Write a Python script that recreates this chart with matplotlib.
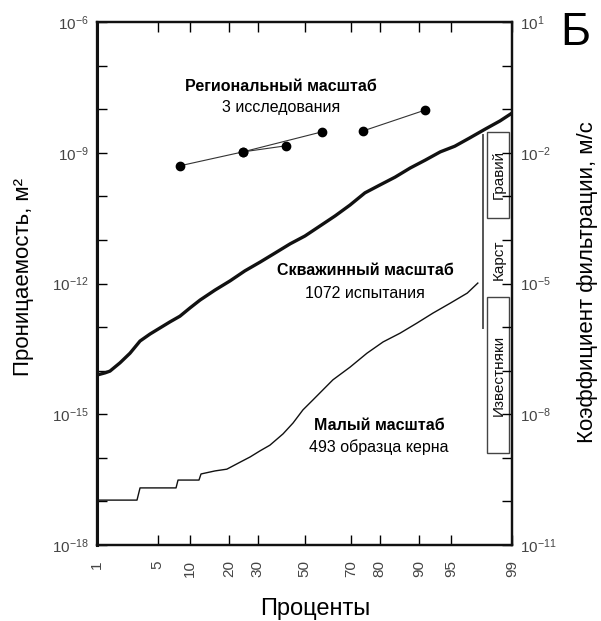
import numpy as np
import matplotlib
matplotlib.use('Agg')
import matplotlib.pyplot as plt
from matplotlib.patches import Rectangle
from matplotlib.ticker import FixedLocator, NullFormatter
from statistics import NormalDist

plt.rcParams['font.family'] = ['Liberation Sans', 'DejaVu Sans']
plt.rcParams['mathtext.fontset'] = 'custom'
plt.rcParams['mathtext.rm'] = 'Liberation Sans'
plt.rcParams['mathtext.it'] = 'Liberation Sans:italic'
plt.rcParams['mathtext.bf'] = 'Liberation Sans:bold'

# Региональный масштаб: 3 исследования (проценты, lg k)
reg_pct_a = [8.1, 24.5, 41.8]
reg_logk_a = [-9.30, -8.98, -8.84]
reg_pct_b = [24.5, 57.8]
reg_logk_b = [-8.98, -8.52]
reg_pct_c = [74.4, 91.2]
reg_logk_c = [-8.50, -8.02]

# Скважинный масштаб: 1072 испытания
bore_pct = [1.0, 1.27, 1.46, 1.93, 2.52, 3.26, 4.16, 5.26, 6.58, 8.13, 9.97,
            12.08, 15.8, 20.2, 25.2, 30.9, 37.1, 43.6, 50.2, 56.9, 63.4, 69.5,
            75.1, 80.1, 84.5, 88.2, 91.2, 93.6, 95.4, 96.8, 97.85, 98.58, 99.0]
bore_logk = [-14.10, -14.05, -14.01, -13.82, -13.60, -13.32, -13.16, -13.02,
             -12.88, -12.75, -12.56, -12.38, -12.15, -11.94, -11.71, -11.51,
             -11.30, -11.09, -10.91, -10.68, -10.45, -10.20, -9.92, -9.74,
             -9.56, -9.35, -9.17, -8.98, -8.85, -8.66, -8.46, -8.27, -8.09]

# Малый масштаб: 493 образца керна
core_pct = [1.0, 3.02, 3.26, 7.49, 7.81, 11.84, 12.3, 15.8, 19.2, 23.5, 27.1,
            30.9, 34.9, 40.5, 44.9, 49.3, 53.8, 58.2, 62.5, 69.5, 75.8, 81.1,
            85.8, 89.6, 92.5, 94.9, 96.6, 97.4]
core_logk = [-16.97, -16.97, -16.69, -16.69, -16.51, -16.51, -16.37, -16.30,
             -16.26, -16.10, -15.98, -15.84, -15.71, -15.45, -15.20, -14.90,
             -14.67, -14.44, -14.21, -13.92, -13.60, -13.34, -13.14, -12.91,
             -12.68, -12.45, -12.22, -11.99]

# диапазоны пород (lg k)
rock_names = ['Гравий', 'Известняки']
rock_top = [-8.52, -12.31]
rock_bot = [-10.50, -15.89]
karst_top = -8.59
karst_bot = -13.02

pct_ticks = [1, 5, 10, 20, 30, 50, 70, 80, 90, 95, 99]

nd = NormalDist()
_ppf = np.vectorize(lambda v: nd.inv_cdf(min(max(v / 100.0, 1e-9), 1 - 1e-9)), otypes=[float])
_cdf = np.vectorize(lambda v: nd.cdf(v) * 100.0, otypes=[float])


def fwd(p):
    return _ppf(np.asarray(p, dtype=float))


def inv(z):
    return _cdf(np.asarray(z, dtype=float))


fig = plt.figure(figsize=(6.01, 6.21), dpi=100)
ax = fig.add_axes([97 / 601, 1 - 545 / 621, 415 / 601, 523 / 621])
ax.set_xscale('function', functions=(fwd, inv))
ax.set_yscale('log')
ax.set_xlim(1, 99)
ax.set_ylim(1e-18, 1e-6)

line_c = '#111111'
for px, lk in [(reg_pct_a, reg_logk_a), (reg_pct_b, reg_logk_b), (reg_pct_c, reg_logk_c)]:
    ax.plot(px, 10.0 ** np.array(lk), color='#333333', lw=0.8,
            marker='o', ms=6, mfc='black', mec='black')

ax.plot(bore_pct, 10.0 ** np.array(bore_logk), color=line_c, lw=2.4)
ax.plot(core_pct, 10.0 ** np.array(core_logk), color=line_c, lw=1.0)

# породы справа
tr = ax.get_yaxis_transform()
for name, top, bot in zip(rock_names, rock_top, rock_bot):
    ax.add_patch(Rectangle((0.940, 10.0 ** bot), 0.053, 10.0 ** top - 10.0 ** bot,
                           transform=tr, fill=False, ec='#444444', lw=1.0))
    ax.text(0.967, 10.0 ** ((top + bot) / 2), name, transform=tr, rotation=90,
            ha='center', va='center', fontsize=11, color='#111111')
ax.plot([0.930, 0.930], [10.0 ** karst_top, 10.0 ** karst_bot], transform=tr,
        color='#555555', lw=1.4)
ax.text(0.967, 10.0 ** -11.46, 'Карст', transform=tr, rotation=90,
        ha='center', va='center', fontsize=11, color='#111111')

# подписи серий
ax.text(39.6, 10.0 ** -7.49, 'Региональный масштаб', ha='center', va='center',
        fontsize=11.5, fontweight='bold')
ax.text(39.6, 10.0 ** -7.97, '3 исследования', ha='center', va='center', fontsize=11.5)
ax.text(75.1, 10.0 ** -11.71, 'Скважинный масштаб', ha='center', va='center',
        fontsize=11.5, fontweight='bold')
ax.text(75.1, 10.0 ** -12.22, '1072 испытания', ha='center', va='center', fontsize=11.5)
ax.text(79.8, 10.0 ** -15.25, 'Малый масштаб', ha='center', va='center',
        fontsize=11.5, fontweight='bold')
ax.text(79.8, 10.0 ** -15.75, '493 образца керна', ha='center', va='center', fontsize=11.5)

# оси
tick_c = '#444444'
ax.set_xticks(pct_ticks)
ax.set_xticklabels([str(t) for t in pct_ticks], rotation=90, fontsize=11, color=tick_c)
ax.xaxis.set_minor_locator(FixedLocator([]))
ax.tick_params(axis='x', which='major', direction='in', top=True, length=7,
               width=1, pad=11)

left_major = [-18, -15, -12, -9, -6]
ax.yaxis.set_major_locator(FixedLocator([10.0 ** e for e in left_major]))
ax.set_yticklabels([r'$10^{%d}$' % e for e in left_major], fontsize=11, color=tick_c)
ax.yaxis.set_minor_locator(FixedLocator([10.0 ** e for e in range(-18, -5)]))
ax.yaxis.set_minor_formatter(NullFormatter())
ax.tick_params(axis='y', which='both', direction='in', length=7, width=1, pad=6)

ax2 = ax.twinx()
ax2.set_yscale('log')
ax2.set_ylim(1e-11, 1e1)
right_major = [-11, -8, -5, -2, 1]
ax2.yaxis.set_major_locator(FixedLocator([10.0 ** e for e in right_major]))
ax2.set_yticklabels([r'$10^{%d}$' % e for e in right_major], fontsize=11, color=tick_c)
ax2.yaxis.set_minor_locator(FixedLocator([10.0 ** e for e in range(-11, 2)]))
ax2.yaxis.set_minor_formatter(NullFormatter())
ax2.tick_params(axis='y', which='both', direction='in', length=7, width=1, pad=6)

for a in (ax, ax2):
    for s in a.spines.values():
        s.set_linewidth(1.6)
        s.set_color('#111111')
ax.spines['left'].set_linewidth(2.2)

ax.set_xlabel('Проценты', fontsize=17, va='center')
ax.xaxis.set_label_coords(0.525, -0.1215)
ax.set_ylabel('Проницаемость, м²', fontsize=16, va='center')
ax.yaxis.set_label_coords(-0.178, 0.512)
ax2.set_ylabel('Коэффициент фильтрации, м/с', fontsize=16, va='center', rotation=90)
ax2.yaxis.set_label_coords(1.181, 0.502)

fig.text(575 / 601, 1 - 33 / 621, 'Б', fontsize=33, ha='center', va='center')

fig.savefig('out.png', dpi=100)
